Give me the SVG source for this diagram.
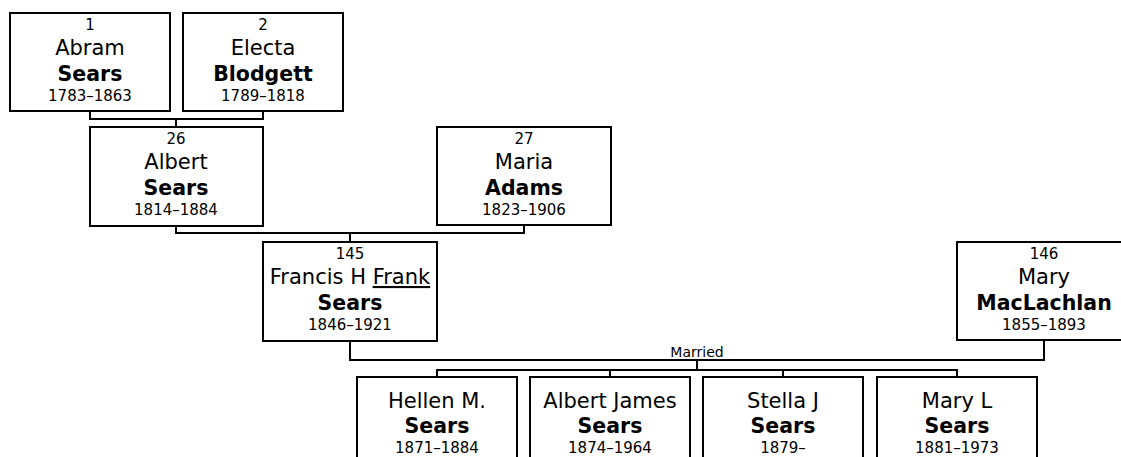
<svg xmlns="http://www.w3.org/2000/svg" width="1121" height="457" viewBox="0 0 1121 457">
<style>
  .box { fill: #ffffff; stroke: #000000; stroke-width: 2; }
  .conn { fill: none; stroke: #000000; stroke-width: 2; }
  text { font-family: "DejaVu Sans", Verdana, sans-serif; fill: #000000; text-anchor: middle; }
  .num { font-size: 15px; }
  .given { font-size: 21px; }
  .sur { font-size: 20.5px; font-weight: bold; }
  .date { font-size: 15px; }
  .lbl { font-size: 14px; }
</style>
<rect width="1121" height="457" fill="#ffffff"/>
<g id="connectors">
  <path class="conn" d="M90,111 V119 H263 V111 M176,119 V127"/>
  <path class="conn" d="M176,226 V233 H524 V226 M350,233 V242"/>
  <path class="conn" d="M350,341 V360 H1044 V341 M697,360 V370 M437,377 V370 H957 V377 M610,370 V377 M783,370 V377"/>
  <text class="lbl" x="697" y="357">Married</text>
</g>
<g id="p1">
  <rect class="box" x="10" y="13" width="160" height="98"/>
  <text class="num" x="90" y="30">1</text>
  <text class="given" x="90" y="55">Abram</text>
  <text class="sur" x="90" y="81">Sears</text>
  <text class="date" x="90" y="101">1783–1863</text>
</g>
<g id="p2">
  <rect class="box" x="183" y="13" width="160" height="98"/>
  <text class="num" x="263" y="30">2</text>
  <text class="given" x="263" y="55">Electa</text>
  <text class="sur" x="263" y="81">Blodgett</text>
  <text class="date" x="263" y="101">1789–1818</text>
</g>
<g id="p26">
  <rect class="box" x="90" y="127" width="173" height="99"/>
  <text class="num" x="176" y="144">26</text>
  <text class="given" x="176" y="169">Albert</text>
  <text class="sur" x="176" y="195">Sears</text>
  <text class="date" x="176" y="215">1814–1884</text>
</g>
<g id="p27">
  <rect class="box" x="437" y="127" width="174" height="98"/>
  <text class="num" x="524" y="144">27</text>
  <text class="given" x="524" y="169">Maria</text>
  <text class="sur" x="524" y="195">Adams</text>
  <text class="date" x="524" y="215">1823–1906</text>
</g>
<g id="p145">
  <rect class="box" x="263" y="242" width="174" height="99"/>
  <text class="num" x="350" y="259">145</text>
  <text class="given" x="350" y="284">Francis H <tspan text-decoration="underline">Frank</tspan></text>
  <text class="sur" x="350" y="310">Sears</text>
  <text class="date" x="350" y="330">1846–1921</text>
</g>
<g id="p146">
  <rect class="box" x="957" y="242" width="174" height="98"/>
  <text class="num" x="1044" y="259">146</text>
  <text class="given" x="1044" y="284">Mary</text>
  <text class="sur" x="1044" y="310">MacLachlan</text>
  <text class="date" x="1044" y="330">1855–1893</text>
</g>
<g id="c1">
  <rect class="box" x="357" y="377" width="160" height="110"/>
  <text class="given" x="437" y="408">Hellen M.</text>
  <text class="sur" x="437" y="433">Sears</text>
  <text class="date" x="437" y="453">1871–1884</text>
</g>
<g id="c2">
  <rect class="box" x="530" y="377" width="160" height="110"/>
  <text class="given" x="610" y="408">Albert James</text>
  <text class="sur" x="610" y="433">Sears</text>
  <text class="date" x="610" y="453">1874–1964</text>
</g>
<g id="c3">
  <rect class="box" x="703" y="377" width="160" height="110"/>
  <text class="given" x="783" y="408">Stella J</text>
  <text class="sur" x="783" y="433">Sears</text>
  <text class="date" x="783" y="453">1879–</text>
</g>
<g id="c4">
  <rect class="box" x="877" y="377" width="160" height="110"/>
  <text class="given" x="957" y="408">Mary L</text>
  <text class="sur" x="957" y="433">Sears</text>
  <text class="date" x="957" y="453">1881–1973</text>
</g>
</svg>
